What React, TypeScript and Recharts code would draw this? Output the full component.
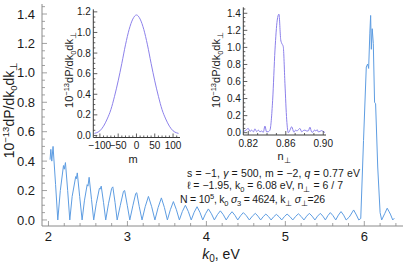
import { Line, LineChart, XAxis, YAxis } from "recharts";

// main spectrum, k0 in eV
const k0 = [
  2.02, 2.03, 2.042, 2.058, 2.09, 2.118, 2.15, 2.19, 2.2, 2.215, 2.243, 2.27,
  2.3, 2.345, 2.353, 2.365, 2.395, 2.426, 2.455, 2.49, 2.5, 2.515, 2.545, 2.573,
  2.605, 2.645, 2.655, 2.668, 2.697, 2.725, 2.76, 2.8, 2.815, 2.843, 2.87,
  2.91, 2.95, 2.965, 2.998, 3.03, 3.07, 3.105, 3.118, 3.15, 3.185,
  3.225, 3.266, 3.307, 3.348, 3.389, 3.43, 3.468, 3.506, 3.544, 3.582, 3.62, 3.658,
  3.696, 3.734, 3.771, 3.808, 3.845, 3.882, 3.918, 3.954, 3.99, 4.025, 4.063, 4.101,
  4.139, 4.177, 4.214, 4.251, 4.288, 4.325, 4.361, 4.397, 4.433, 4.468, 4.506, 4.544,
  4.582, 4.62, 4.653, 4.687, 4.72, 4.753, 4.787, 4.82, 4.853, 4.886, 4.92, 4.954,
  4.988, 5.022, 5.058, 5.094, 5.13, 5.165, 5.2, 5.235, 5.27, 5.304, 5.339, 5.374,
  5.408, 5.443, 5.475, 5.507, 5.538, 5.57, 5.604, 5.638, 5.672, 5.705, 5.738, 5.77,
  5.81, 5.865, 5.9, 5.93, 5.955, 5.99, 6.025, 6.042, 6.055, 6.07, 6.08, 6.089,
  6.1, 6.114, 6.13, 6.143, 6.17, 6.2, 6.22, 6.26, 6.29, 6.31, 6.33, 6.36, 6.38,
];
const dP = [
  0.41, 0.48, 0.4, 0.5, 0.24, 0.0, 0.2, 0.37, 0.345, 0.39, 0.2, 0.0,
  0.16, 0.295, 0.28, 0.32, 0.16, 0.0, 0.13, 0.24, 0.23, 0.29, 0.14, 0.0,
  0.11, 0.215, 0.21, 0.23, 0.12, 0.0, 0.11, 0.215, 0.225, 0.12, 0.0,
  0.1, 0.195, 0.2, 0.1, 0.0, 0.1, 0.18, 0.185, 0.09, 0.0,
  0.09, 0.16, 0.09, 0.0, 0.085, 0.15, 0.085, 0.0, 0.07, 0.125, 0.07, 0.0,
  0.058, 0.1, 0.058, 0.0, 0.052, 0.09, 0.052, 0.0, 0.043, 0.075, 0.043, 0.0,
  0.036, 0.062, 0.036, 0.0, 0.032, 0.056, 0.032, 0.0, 0.029, 0.05, 0.029, 0.0,
  0.026, 0.045, 0.026, 0.0, 0.023, 0.04, 0.023, 0.0, 0.022, 0.038, 0.022, 0.0,
  0.023, 0.04, 0.023, 0.0, 0.024, 0.042, 0.024, 0.0, 0.026, 0.045, 0.026, 0.0,
  0.026, 0.045, 0.026, 0.0, 0.029, 0.05, 0.029, 0.0, 0.033, 0.057, 0.033, 0.0,
  0.02, 0.068, 0.034, 0.0, 0.01, 0.54, 1.04, 1.06, 1.03, 1.27, 1.39, 1.16,
  1.3, 1.2, 0.8, 0.79, 0.36, 0.05, 0.0, 0.045, 0.08, 0.06, 0.04, 0.0, 0.012,
];

// left inset: distribution over m
const mVals = [
  -115, -110, -100, -90, -80, -70, -60, -50, -40, -30, -20, -10, 0,
  10, 20, 30, 40, 50, 60, 70, 80, 90, 100, 110, 115,
];
const mPower = [
  0.02, 0.025, 0.045, 0.09, 0.16, 0.25, 0.38, 0.53, 0.7, 0.88, 1.03, 1.13, 1.17,
  1.13, 1.03, 0.88, 0.7, 0.53, 0.38, 0.25, 0.16, 0.09, 0.045, 0.025, 0.02,
];

// right inset: distribution over n_perp
const nPerp = [
  0.8147, 0.8175, 0.82, 0.8218, 0.8236, 0.8255, 0.8271, 0.829, 0.8307, 0.8325,
  0.8343, 0.836, 0.8378, 0.8395, 0.8413, 0.8431, 0.846, 0.8485, 0.8509, 0.8527,
  0.8546, 0.8556, 0.8573, 0.8591, 0.861, 0.8627, 0.8645, 0.8663, 0.8687, 0.8705,
  0.872, 0.8738, 0.8751, 0.877, 0.8787, 0.8805, 0.8823, 0.884, 0.8858, 0.8875,
  0.8887, 0.8905, 0.8922, 0.8935, 0.8947, 0.8965, 0.8983, 0.9, 0.9018,
];
const nPower = [
  0.012, 0.03, 0.05, 0.015, 0.03, 0.01, 0.045, 0.012, 0.03, 0.01,
  0.02, 0.005, 0.078, 0.01, 0.012, 0.03, 0.38, 0.97, 1.32, 1.39,
  1.09, 1.05, 1.01, 0.58, 0.15, 0.0, 0.03, 0.07, 0.005, 0.03,
  0.02, 0.04, 0.05, 0.01, 0.025, 0.03, 0.02, 0.02, 0.065, 0.01,
  0.005, 0.03, 0.02, 0.035, 0.01, 0.015, 0.025, 0.012, 0.003,
];

const mainXTicks = [2, 3, 4, 5, 6];
const mainXLabels = ["2", "3", "4", "5", "6"];
const mainYTicks = [0, 0.2, 0.4, 0.6, 0.8, 1.0, 1.2, 1.4];
const mainYLabels = ["0.0", "0.2", "0.4", "0.6", "0.8", "1.0", "1.2", "1.4"];
const mXTicks = [-100, -50, 0, 50, 100];
const mXLabels = ["\u2212100", "\u221250", "0", "50", "100"];
const mYTicks = [0, 0.2, 0.4, 0.6, 0.8, 1.0, 1.2];
const mYLabels = ["0.0", "0.2", "0.4", "0.6", "0.8", "1.0", "1.2"];
const nXTicks = [0.82, 0.86, 0.9];
const nXLabels = ["0.82", "0.86", "0.90"];
const nYTicks = mainYTicks;
const nYLabels = mainYLabels;

const FONT = '"Liberation Sans", Arial, sans-serif';
const BLUE = "#5e9de2";
const PURPLE = "#8c80ea";
const FRAME = "#8a8a8a";
const INSET_FRAME = "#3a3a3a";

const mainData = k0.map((k, i) => ({ k, p: dP[i] }));
const mData = mVals.map((m, i) => ({ m, p: mPower[i] }));
const nData = nPerp.map((n, i) => ({ n, p: nPower[i] }));

function steps(a: number, b: number, s: number) {
  return Array.from({ length: Math.round((b - a) / s) + 1 }, (_, i) =>
    Number((a + i * s).toFixed(6))
  );
}

const mainXAll = steps(2, 6.4, 0.2);
const mainYAll = steps(0, 1.45, 0.05);
const mXAll = steps(-110, 110, 10);
const mYAll = steps(0, 1.2, 0.05);
const nXAll = steps(0.82, 0.9, 0.01);
const nYAll = steps(0, 1.45, 0.05);

type Side = "bottom" | "top" | "left" | "right";

function frameTick(
  side: Side,
  majors: number[],
  labels: string[] | null,
  big: number,
  small: number,
  color: string,
  fontSize = 13,
  gap = 0
) {
  return (props: any) => {
    const { x, y, payload } = props;
    const i = majors.findIndex((m) => Math.abs(m - payload.value) < 1e-6);
    const len = i >= 0 ? big : small;
    let x2 = x;
    let y2 = y;
    if (side === "bottom") y2 = y - len;
    if (side === "top") y2 = y + len;
    if (side === "left") x2 = x + len;
    if (side === "right") x2 = x - len;
    let label = null;
    if (labels && i >= 0) {
      label =
        side === "bottom" ? (
          <text x={x} y={y + gap} textAnchor="middle" fontSize={fontSize} fontFamily={FONT} fill="#1a1a1a">
            {labels[i]}
          </text>
        ) : (
          <text x={x - gap} y={y} dy="0.35em" textAnchor="end" fontSize={fontSize} fontFamily={FONT} fill="#1a1a1a">
            {labels[i]}
          </text>
        );
    }
    return (
      <g>
        <line x1={x} y1={y} x2={x2} y2={y2} stroke={color} strokeWidth={0.8} />
        {label}
      </g>
    );
  };
}

const SUB = 9;

export default function App() {
  return (
    <div style={{ position: "absolute", left: 0, top: 0, width: 407, height: 264, background: "#fff" }}>
      <div style={{ position: "absolute", left: 0, top: 0 }}>
        <LineChart width={407} height={264} data={mainData} margin={{ top: 4, right: 4, bottom: 0, left: 0 }}>
          <XAxis
            dataKey="k" type="number" domain={[1.918, 6.49]} allowDataOverflow
            ticks={mainXAll} interval={0} height={38} tickSize={0} tickMargin={0}
            tickLine={false} axisLine={{ stroke: FRAME }}
            tick={frameTick("bottom", mainXTicks, mainXLabels, 5, 3, FRAME, 13, 15)}
          />
          <XAxis
            xAxisId="top" orientation="top" dataKey="k" type="number" domain={[1.918, 6.49]} allowDataOverflow
            ticks={mainXAll} interval={0} height={0} tickSize={0} tickMargin={0}
            tickLine={false} axisLine={{ stroke: FRAME }}
            tick={frameTick("top", mainXTicks, null, 5, 3, FRAME)}
          />
          <YAxis
            type="number" domain={[-0.041, 1.468]} allowDataOverflow
            ticks={mainYAll} interval={0} width={42} tickSize={0} tickMargin={0}
            tickLine={false} axisLine={{ stroke: FRAME }}
            tick={frameTick("left", mainYTicks, mainYLabels, 5, 3, FRAME, 13, 7)}
          />
          <YAxis
            yAxisId="right" orientation="right" type="number" domain={[-0.041, 1.468]} allowDataOverflow
            ticks={mainYAll} interval={0} width={0} tickSize={0} tickMargin={0}
            tickLine={false} axisLine={{ stroke: FRAME }}
            tick={frameTick("right", mainYTicks, null, 5, 3, FRAME)}
          />
          <Line dataKey="p" type="linear" stroke={BLUE} strokeWidth={1} dot={false} isAnimationActive={false} />
        </LineChart>
      </div>

      <div style={{ position: "absolute", left: 60, top: 0 }}>
        <LineChart width={135} height={170} data={mData} margin={{ top: 9.3, right: 15, bottom: 0, left: 0 }}>
          <XAxis
            dataKey="m" type="number" domain={[-118, 119]} allowDataOverflow
            ticks={mXAll} interval={0} height={32.5} tickSize={0} tickMargin={0}
            tickLine={false} axisLine={{ stroke: INSET_FRAME }}
            tick={frameTick("bottom", mXTicks, mXLabels, 4, 2, INSET_FRAME, 10, 11.5)}
          />
          <XAxis
            xAxisId="top" orientation="top" dataKey="m" type="number" domain={[-118, 119]} allowDataOverflow
            ticks={mXAll} interval={0} height={0} tickSize={0} tickMargin={0}
            tickLine={false} axisLine={{ stroke: INSET_FRAME }}
            tick={frameTick("top", mXTicks, null, 4, 2, INSET_FRAME)}
          />
          <YAxis
            type="number" domain={[-0.02, 1.225]} allowDataOverflow
            ticks={mYAll} interval={0} width={33.3} tickSize={0} tickMargin={0}
            tickLine={false} axisLine={{ stroke: INSET_FRAME }}
            tick={frameTick("left", mYTicks, mYLabels, 4, 2, INSET_FRAME, 10, 2.5)}
          />
          <YAxis
            yAxisId="right" orientation="right" type="number" domain={[-0.02, 1.225]} allowDataOverflow
            ticks={mYAll} interval={0} width={0} tickSize={0} tickMargin={0}
            tickLine={false} axisLine={{ stroke: INSET_FRAME }}
            tick={frameTick("right", mYTicks, null, 4, 2, INSET_FRAME)}
          />
          <Line dataKey="p" type="monotone" stroke={PURPLE} strokeWidth={1} dot={false} isAnimationActive={false} />
        </LineChart>
      </div>

      <div style={{ position: "absolute", left: 210, top: 0 }}>
        <LineChart width={130} height={170} data={nData} margin={{ top: 7.3, right: 14, bottom: 0, left: 0 }}>
          <XAxis
            dataKey="n" type="number" domain={[0.8147, 0.9029]} allowDataOverflow
            ticks={nXAll} interval={0} height={35} tickSize={0} tickMargin={0}
            tickLine={false} axisLine={{ stroke: INSET_FRAME }}
            tick={frameTick("bottom", nXTicks, nXLabels, 4, 2, INSET_FRAME, 10, 11.5)}
          />
          <XAxis
            xAxisId="top" orientation="top" dataKey="n" type="number" domain={[0.8147, 0.9029]} allowDataOverflow
            ticks={nXAll} interval={0} height={0} tickSize={0} tickMargin={0}
            tickLine={false} axisLine={{ stroke: INSET_FRAME }}
            tick={frameTick("top", nXTicks, null, 4, 2, INSET_FRAME)}
          />
          <YAxis
            type="number" domain={[-0.027, 1.47]} allowDataOverflow
            ticks={nYAll} interval={0} width={33.3} tickSize={0} tickMargin={0}
            tickLine={false} axisLine={{ stroke: INSET_FRAME }}
            tick={frameTick("left", nYTicks, nYLabels, 4, 2, INSET_FRAME, 10, 2.5)}
          />
          <YAxis
            yAxisId="right" orientation="right" type="number" domain={[-0.027, 1.47]} allowDataOverflow
            ticks={nYAll} interval={0} width={0} tickSize={0} tickMargin={0}
            tickLine={false} axisLine={{ stroke: INSET_FRAME }}
            tick={frameTick("right", nYTicks, null, 4, 2, INSET_FRAME)}
          />
          <Line dataKey="p" type="monotone" stroke={PURPLE} strokeWidth={1} dot={false} isAnimationActive={false} />
        </LineChart>
      </div>

      <svg width={407} height={264} style={{ position: "absolute", left: 0, top: 0, pointerEvents: "none" }} fontFamily={FONT} fill="#1a1a1a">
        <text transform="translate(14,110) rotate(-90)" textAnchor="middle" fontSize={14}>
          10<tspan dy={-5} fontSize={9.5}>{"\u221213"}</tspan>
          <tspan dy={5}>dP/dk</tspan>
          <tspan dy={3} fontSize={9.5}>0</tspan>
          <tspan dy={-3}>dk</tspan>
          <tspan dy={3} fontSize={9.5}>{"\u22a5"}</tspan>
        </text>
        <text x={221} y={259} textAnchor="middle" fontSize={14}>
          <tspan fontStyle="italic">k</tspan>
          <tspan dy={3} fontSize={10}>0</tspan>
          <tspan dy={-3}>, eV</tspan>
        </text>

        <text transform="translate(73,70) rotate(-90)" textAnchor="middle" fontSize={11}>
          10<tspan dy={-4} fontSize={7.5}>{"\u221213"}</tspan>
          <tspan dy={4}>dP/dk</tspan>
          <tspan dy={2.5} fontSize={7.5}>0</tspan>
          <tspan dy={-2.5}>dk</tspan>
          <tspan dy={2.5} fontSize={7.5}>{"\u22a5"}</tspan>
        </text>
        <text x={133} y={163} textAnchor="middle" fontSize={11}>m</text>

        <text transform="translate(220,70) rotate(-90)" textAnchor="middle" fontSize={11}>
          10<tspan dy={-4} fontSize={7.5}>{"\u221213"}</tspan>
          <tspan dy={4}>dP/dk</tspan>
          <tspan dy={2.5} fontSize={7.5}>0</tspan>
          <tspan dy={-2.5}>dk</tspan>
          <tspan dy={2.5} fontSize={7.5}>{"\u22a5"}</tspan>
        </text>
        <text x={284} y={160} textAnchor="middle" fontSize={11}>
          n<tspan dy={2.5} fontSize={7.5}>{"\u22a5"}</tspan>
        </text>

        <text x={187} y={177} fontSize={10.5} textLength={173} lengthAdjust="spacing">
          {"s = \u22121, "}
          <tspan fontStyle="italic">{"\u03b3"}</tspan>
          {" = 500,  m = \u22122,  "}
          <tspan fontStyle="italic">q</tspan>
          {" = 0.77 eV"}
        </text>
        <text x={187} y={189} fontSize={10.5} textLength={156} lengthAdjust="spacing">
          {"\u2113 = \u22121.95,  k"}
          <tspan dy={2.5} fontSize={7.5}>0</tspan>
          <tspan dy={-2.5}>{" = 6.08 eV,  n"}</tspan>
          <tspan dy={2.5} fontSize={7.5}>{"\u22a5"}</tspan>
          <tspan dy={-2.5}>{" = 6 / 7"}</tspan>
        </text>
        <text x={180} y={203} fontSize={10.5} textLength={145} lengthAdjust="spacing">
          {"N = 10"}
          <tspan dy={-4} fontSize={7.5}>5</tspan>
          <tspan dy={4}>{", k"}</tspan>
          <tspan dy={2.5} fontSize={7.5}>0</tspan>
          <tspan dy={-2.5}> </tspan>
          <tspan fontStyle="italic">{"\u03c3"}</tspan>
          <tspan dy={2.5} fontSize={7.5}>3</tspan>
          <tspan dy={-2.5}>{" = 4624, k"}</tspan>
          <tspan dy={2.5} fontSize={7.5}>{"\u22a5"}</tspan>
          <tspan dy={-2.5}> </tspan>
          <tspan fontStyle="italic">{"\u03c3"}</tspan>
          <tspan dy={2.5} fontSize={7.5}>{"\u22a5"}</tspan>
          <tspan dy={-2.5}>=26</tspan>
        </text>
      </svg>
    </div>
  );
}
